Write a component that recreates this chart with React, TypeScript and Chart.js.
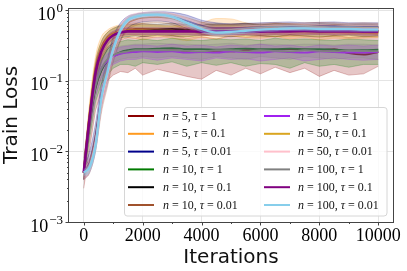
import React, { useEffect, useRef } from 'react';
import { Chart, registerables } from 'chart.js';

Chart.register(...registerables);

const ITER = [0,200,400,600,800,1000,1250,1500,1750,2000,2500,3000,3500,4000,4500,5000,5500,6000,6500,7000,7500,8000,8500,9000,9500,10000];

const N_VALUES = ['5','5','5','10','10','10','50','50','50','100','100','100'];
const TAU_VALUES = ['1','0.1','0.01','1','0.1','0.01','1','0.1','0.01','1','0.1','0.01'];
const COLORS = ['#8b0000','#ff9a1f','#00008b','#007a00','#000000','#a0522d','#a020f0','#daa520','#ffc0cb','#808080','#800080','#87ceeb'];

const X_TICKS = [0,2000,4000,6000,8000,10000];
const Y_TICKS = [0.001,0.01,0.1,1];
const Y_EXP = ['\u22123','\u22122','\u22121','0'];

const M_5_1 = [0.005,0.024,0.078,0.14,0.19,0.22,0.245,0.26,0.265,0.27,0.265,0.27,0.26,0.255,0.265,0.26,0.27,0.27,0.275,0.28,0.275,0.27,0.28,0.245,0.235,0.255];
const L_5_1 = [0.003,0.011,0.038,0.07,0.1,0.12,0.135,0.13,0.15,0.12,0.145,0.13,0.115,0.105,0.14,0.12,0.15,0.125,0.155,0.13,0.15,0.115,0.14,0.12,0.125,0.16];
const H_5_1 = [0.008,0.04,0.13,0.22,0.3,0.34,0.38,0.41,0.4,0.43,0.41,0.44,0.4,0.42,0.39,0.43,0.41,0.44,0.42,0.45,0.43,0.41,0.44,0.41,0.42,0.42];

const M_5_01 = [0.005,0.034,0.15,0.3,0.41,0.47,0.51,0.53,0.54,0.54,0.535,0.525,0.52,0.51,0.52,0.53,0.52,0.51,0.505,0.5,0.495,0.49,0.485,0.48,0.475,0.47];
const L_5_01 = [0.004,0.02,0.09,0.19,0.29,0.35,0.39,0.41,0.4,0.38,0.42,0.4,0.37,0.41,0.39,0.43,0.41,0.4,0.42,0.39,0.41,0.38,0.4,0.39,0.4,0.41];
const H_5_01 = [0.006,0.05,0.22,0.42,0.52,0.58,0.62,0.64,0.66,0.64,0.62,0.6,0.63,0.66,0.76,0.75,0.66,0.62,0.65,0.64,0.62,0.6,0.63,0.6,0.58,0.58];

const M_5_001 = [0.005,0.007,0.016,0.06,0.14,0.3,0.52,0.7,0.78,0.82,0.84,0.8,0.7,0.6,0.56,0.56,0.57,0.58,0.58,0.58,0.58,0.59,0.59,0.58,0.58,0.58];
const L_5_001 = [0.004,0.005,0.01,0.04,0.09,0.2,0.38,0.55,0.64,0.68,0.7,0.66,0.55,0.46,0.44,0.45,0.46,0.47,0.47,0.48,0.48,0.48,0.49,0.48,0.48,0.48];
const H_5_001 = [0.006,0.01,0.025,0.09,0.2,0.42,0.66,0.82,0.88,0.92,0.95,0.93,0.85,0.72,0.66,0.64,0.65,0.66,0.67,0.68,0.66,0.67,0.68,0.66,0.66,0.66];

const M_10_1 = [0.005,0.025,0.08,0.14,0.19,0.225,0.255,0.27,0.28,0.28,0.285,0.29,0.28,0.28,0.275,0.28,0.285,0.28,0.28,0.285,0.28,0.28,0.275,0.27,0.27,0.275];
const L_10_1 = [0.004,0.015,0.05,0.09,0.12,0.15,0.17,0.17,0.16,0.18,0.17,0.185,0.16,0.18,0.165,0.18,0.16,0.175,0.17,0.15,0.18,0.16,0.17,0.155,0.17,0.17];
const H_10_1 = [0.007,0.035,0.11,0.2,0.28,0.32,0.36,0.38,0.37,0.39,0.37,0.4,0.38,0.37,0.39,0.38,0.39,0.37,0.4,0.38,0.39,0.38,0.37,0.39,0.38,0.37];

const M_10_01 = [0.005,0.03,0.13,0.27,0.38,0.45,0.5,0.52,0.53,0.53,0.53,0.54,0.53,0.52,0.52,0.53,0.53,0.52,0.52,0.53,0.53,0.52,0.52,0.52,0.51,0.51];
const L_10_01 = [0.004,0.02,0.08,0.18,0.27,0.34,0.4,0.42,0.43,0.42,0.44,0.43,0.42,0.44,0.43,0.42,0.44,0.43,0.42,0.44,0.43,0.42,0.43,0.44,0.42,0.43];
const H_10_01 = [0.006,0.04,0.18,0.36,0.48,0.55,0.6,0.62,0.63,0.64,0.63,0.65,0.63,0.62,0.64,0.63,0.65,0.62,0.64,0.63,0.62,0.64,0.63,0.62,0.63,0.62];

const M_10_001 = [0.005,0.0065,0.014,0.05,0.12,0.26,0.48,0.66,0.74,0.78,0.8,0.76,0.65,0.56,0.52,0.53,0.54,0.55,0.56,0.56,0.57,0.57,0.56,0.56,0.56,0.56];
const L_10_001 = [0.004,0.005,0.01,0.035,0.08,0.18,0.36,0.52,0.6,0.64,0.66,0.62,0.52,0.45,0.43,0.44,0.45,0.46,0.46,0.47,0.47,0.46,0.47,0.46,0.46,0.46];
const H_10_001 = [0.006,0.008,0.02,0.07,0.17,0.36,0.6,0.78,0.86,0.9,0.92,0.88,0.78,0.68,0.62,0.63,0.64,0.65,0.66,0.65,0.66,0.67,0.66,0.65,0.66,0.65];

const M_50_1 = [0.005,0.028,0.09,0.15,0.19,0.22,0.24,0.25,0.255,0.26,0.255,0.26,0.25,0.255,0.25,0.26,0.255,0.25,0.26,0.255,0.25,0.26,0.255,0.25,0.25,0.255];
const L_50_1 = [0.004,0.02,0.06,0.11,0.15,0.17,0.19,0.2,0.2,0.21,0.195,0.21,0.2,0.19,0.21,0.2,0.205,0.19,0.2,0.21,0.19,0.2,0.21,0.2,0.195,0.2];
const H_50_1 = [0.006,0.036,0.12,0.19,0.24,0.27,0.3,0.31,0.32,0.32,0.31,0.33,0.31,0.32,0.3,0.32,0.31,0.33,0.31,0.32,0.3,0.32,0.31,0.32,0.31,0.32];

const M_50_01 = [0.005,0.032,0.14,0.28,0.39,0.46,0.5,0.52,0.52,0.52,0.51,0.51,0.5,0.5,0.51,0.51,0.5,0.5,0.5,0.49,0.5,0.5,0.49,0.49,0.49,0.49];
const L_50_01 = [0.004,0.022,0.1,0.21,0.31,0.38,0.42,0.44,0.44,0.44,0.43,0.44,0.42,0.43,0.44,0.43,0.42,0.43,0.42,0.42,0.43,0.42,0.42,0.41,0.42,0.42];
const H_50_01 = [0.006,0.045,0.19,0.36,0.48,0.55,0.59,0.61,0.61,0.61,0.6,0.59,0.59,0.58,0.6,0.6,0.59,0.58,0.59,0.57,0.58,0.59,0.57,0.58,0.57,0.57];

const M_50_001 = [0.005,0.006,0.013,0.05,0.12,0.26,0.5,0.7,0.78,0.82,0.84,0.79,0.66,0.55,0.5,0.5,0.52,0.53,0.54,0.54,0.55,0.55,0.54,0.54,0.54,0.54];
const L_50_001 = [0.004,0.005,0.01,0.038,0.09,0.2,0.4,0.58,0.66,0.7,0.72,0.68,0.56,0.47,0.43,0.43,0.45,0.46,0.47,0.47,0.48,0.48,0.47,0.47,0.47,0.47];
const H_50_001 = [0.006,0.0075,0.017,0.065,0.16,0.34,0.62,0.82,0.9,0.94,0.95,0.9,0.77,0.64,0.58,0.58,0.6,0.61,0.62,0.62,0.63,0.63,0.62,0.62,0.62,0.62];

const M_100_1 = [0.005,0.026,0.085,0.15,0.2,0.23,0.25,0.26,0.27,0.27,0.27,0.27,0.265,0.26,0.27,0.27,0.26,0.27,0.265,0.26,0.27,0.265,0.26,0.27,0.265,0.26];
const L_100_1 = [0.004,0.018,0.06,0.11,0.15,0.18,0.2,0.21,0.21,0.22,0.21,0.22,0.21,0.2,0.22,0.21,0.2,0.22,0.21,0.2,0.22,0.21,0.2,0.21,0.21,0.2];
const H_100_1 = [0.006,0.035,0.11,0.2,0.26,0.29,0.31,0.32,0.33,0.33,0.34,0.33,0.33,0.32,0.33,0.34,0.32,0.33,0.33,0.32,0.33,0.33,0.32,0.33,0.33,0.32];

const M_100_01 = [0.005,0.03,0.13,0.26,0.37,0.44,0.48,0.5,0.5,0.5,0.5,0.5,0.5,0.495,0.5,0.5,0.5,0.495,0.5,0.5,0.505,0.5,0.5,0.5,0.495,0.495];
const L_100_01 = [0.004,0.024,0.105,0.22,0.32,0.39,0.43,0.45,0.45,0.45,0.45,0.45,0.45,0.44,0.45,0.45,0.45,0.44,0.45,0.45,0.45,0.45,0.45,0.45,0.44,0.44];
const H_100_01 = [0.006,0.037,0.16,0.31,0.43,0.5,0.54,0.56,0.56,0.56,0.56,0.56,0.56,0.55,0.56,0.56,0.56,0.55,0.56,0.56,0.56,0.56,0.56,0.56,0.55,0.55];

const M_100_001 = [0.005,0.006,0.012,0.057,0.13,0.28,0.52,0.72,0.8,0.84,0.86,0.8,0.66,0.54,0.48,0.49,0.51,0.53,0.54,0.55,0.55,0.54,0.54,0.54,0.53,0.53];
const L_100_001 = [0.0045,0.0052,0.0105,0.05,0.115,0.25,0.47,0.66,0.74,0.78,0.8,0.74,0.6,0.49,0.44,0.45,0.47,0.49,0.5,0.51,0.51,0.5,0.5,0.5,0.49,0.49];
const H_100_001 = [0.0055,0.0068,0.014,0.065,0.145,0.31,0.57,0.78,0.86,0.9,0.92,0.86,0.72,0.59,0.53,0.54,0.56,0.58,0.59,0.6,0.6,0.59,0.59,0.59,0.58,0.58];

const MEANS = [M_5_1,M_5_01,M_5_001,M_10_1,M_10_01,M_10_001,M_50_1,M_50_01,M_50_001,M_100_1,M_100_01,M_100_001];
const LOWS = [L_5_1,L_5_01,L_5_001,L_10_1,L_10_01,L_10_001,L_50_1,L_50_01,L_50_001,L_100_1,L_100_01,L_100_001];
const HIGHS = [H_5_1,H_5_01,H_5_001,H_10_1,H_10_01,H_10_001,H_50_1,H_50_01,H_50_001,H_100_1,H_100_01,H_100_001];

function rgba(hex: string, a: number) {
  const h = hex.replace('#', '');
  const r = parseInt(h.slice(0, 2), 16);
  const g = parseInt(h.slice(2, 4), 16);
  const b = parseInt(h.slice(4, 6), 16);
  return `rgba(${r},${g},${b},${a})`;
}

const pts = (arr: number[]) => arr.map((v, i) => ({ x: ITER[i], y: v }));

const SERIF = '"Liberation Serif", "DejaVu Serif", serif';
const SANS = '"DejaVu Sans", sans-serif';

const decorPlugin = {
  id: 'decor',
  afterDraw(chart: any) {
    const ctx = chart.ctx;
    const area = chart.chartArea;
    const xs = chart.scales.x;
    const ys = chart.scales.y;
    ctx.save();
    ctx.strokeStyle = '#444';
    ctx.lineWidth = 1;
    ctx.strokeRect(Math.round(area.left) - 0.5, Math.round(area.top) + 0.5, Math.round(area.right - area.left) + 1, Math.round(area.bottom - area.top));
    ctx.beginPath();
    for (let v = 0; v <= 10000; v += 1000) {
      const px = Math.round(xs.getPixelForValue(v)) + 0.5;
      const len = v % 2000 === 0 ? 3.5 : 2;
      ctx.moveTo(px, area.bottom);
      ctx.lineTo(px, area.bottom + len);
    }
    for (let k = -3; k <= 0; k++) {
      for (let m = 1; m <= 9; m++) {
        const v = m * Math.pow(10, k);
        if (v > ys.max) continue;
        const py = Math.round(ys.getPixelForValue(v)) + 0.5;
        const len = m === 1 ? 3.5 : 2;
        ctx.moveTo(area.left, py);
        ctx.lineTo(area.left - len, py);
      }
    }
    ctx.stroke();
    ctx.fillStyle = '#000';
    ctx.textBaseline = 'alphabetic';
    Y_TICKS.forEach((v, i) => {
      const py = ys.getPixelForValue(v);
      ctx.font = `18px ${SERIF}`;
      const wBase = ctx.measureText('10').width;
      ctx.font = `13px ${SERIF}`;
      const wExp = ctx.measureText(Y_EXP[i]).width;
      const right = area.left - 6;
      const startX = right - wExp - 1 - wBase;
      ctx.font = `18px ${SERIF}`;
      ctx.textAlign = 'left';
      ctx.fillText('10', startX, py + 9.5);
      ctx.font = `13px ${SERIF}`;
      ctx.fillText(Y_EXP[i], startX + wBase + 1, py + 1.5);
    });
    const bx = 124, by = 107, bw = 263, bh = 109;
    ctx.fillStyle = 'rgba(255,255,255,0.8)';
    ctx.strokeStyle = '#d6d6d6';
    ctx.lineWidth = 1;
    ctx.beginPath();
    const r = 3;
    ctx.moveTo(bx + r, by + 0.5);
    ctx.lineTo(bx + bw - r, by + 0.5);
    ctx.quadraticCurveTo(bx + bw, by + 0.5, bx + bw, by + r);
    ctx.lineTo(bx + bw, by + bh - r);
    ctx.quadraticCurveTo(bx + bw, by + bh, bx + bw - r, by + bh);
    ctx.lineTo(bx + r, by + bh);
    ctx.quadraticCurveTo(bx + 0.5, by + bh, bx + 0.5, by + bh - r);
    ctx.lineTo(bx + 0.5, by + r);
    ctx.quadraticCurveTo(bx + 0.5, by + 0.5, bx + r, by + 0.5);
    ctx.closePath();
    ctx.fill();
    ctx.stroke();
    for (let i = 0; i < 12; i++) {
      const col = Math.floor(i / 6);
      const row = i % 6;
      const y = 116 + row * 17.8;
      const lx = col === 0 ? 128 : 264;
      const tx = col === 0 ? 163 : 298;
      ctx.strokeStyle = COLORS[i];
      ctx.lineWidth = 2;
      ctx.beginPath();
      ctx.moveTo(lx, y);
      ctx.lineTo(lx + 26, y);
      ctx.stroke();
      ctx.fillStyle = '#111';
      ctx.textBaseline = 'middle';
      ctx.textAlign = 'left';
      const parts: [string, boolean][] = [
        ['n', true], [' = ' + N_VALUES[i] + ', ', false], ['\u03c4', true], [' = ' + TAU_VALUES[i], false],
      ];
      let cx = tx;
      parts.forEach(([t, it]) => {
        ctx.font = `${it ? 'italic ' : ''}12px ${SERIF}`;
        ctx.fillText(t, cx, y + 0.5);
        cx += ctx.measureText(t).width;
      });
    }
    ctx.restore();
  },
};

export default function App() {
  const ref = useRef<HTMLCanvasElement | null>(null);
  useEffect(() => {
    if (!ref.current) return;
    const datasets: any[] = [];
    for (let i = 0; i < 12; i++) {
      const c = COLORS[i];
      const noisy = TAU_VALUES[i] === '1';
      const smooth = { pointRadius: 0, cubicInterpolationMode: 'monotone' };
      const bandStyle = noisy ? { pointRadius: 0, tension: 0 } : smooth;
      datasets.push({
        ...bandStyle,
        data: pts(LOWS[i]),
        borderColor: rgba(c, 0.35),
        borderWidth: 0.7,
        backgroundColor: 'transparent',
        fill: false,
      });
      datasets.push({
        ...bandStyle,
        data: pts(HIGHS[i]),
        borderColor: rgba(c, 0.35),
        borderWidth: 0.7,
        backgroundColor: rgba(c, i === 8 || i === 11 ? 0.35 : 0.22),
        fill: '-1',
      });
      datasets.push({
        ...smooth,
        data: pts(MEANS[i]),
        borderColor: c,
        borderWidth: i === 10 ? 2.6 : i === 11 ? 2.3 : 1.8,
        backgroundColor: c,
        fill: false,
      });
    }
    const total = datasets.length;
    datasets.forEach((d, k) => { d.order = total - k; });

    const chart = new Chart(ref.current, {
      type: 'line',
      data: { datasets },
      options: {
        animation: false,
        responsive: false,
        events: [],
        layout: { padding: { top: 8, right: 14, left: 0, bottom: 0 } },
        plugins: { legend: { display: false }, tooltip: { enabled: false } },
        scales: {
          x: {
            type: 'linear',
            min: -500,
            max: 10500,
            afterBuildTicks: (s: any) => { s.ticks = X_TICKS.map((v) => ({ value: v })); },
            afterFit: (s: any) => { s.height = 49; },
            grid: { color: '#e4e4e4', lineWidth: 1, drawTicks: false },
            border: { display: false },
            ticks: {
              padding: 3,
              maxRotation: 0,
              autoSkip: false,
              color: '#000',
              font: { family: SERIF, size: 18 },
              callback: (v: any) => String(v),
            },
            title: {
              display: true,
              text: 'Iterations',
              color: '#111',
              font: { family: SANS, size: 20 },
              padding: { top: 0, bottom: 1 },
            },
          },
          y: {
            type: 'logarithmic',
            min: 0.001,
            max: 1.07,
            afterBuildTicks: (s: any) => { s.ticks = Y_TICKS.map((v) => ({ value: v })); },
            afterFit: (s: any) => { s.width = 69; },
            grid: { color: '#e4e4e4', lineWidth: 1, drawTicks: false },
            border: { display: false },
            ticks: { display: false },
            title: {
              display: true,
              text: 'Train Loss',
              color: '#111',
              font: { family: SANS, size: 20 },
              padding: { top: 0, bottom: 0 },
            },
          },
        },
      },
      plugins: [decorPlugin],
    });
    return () => chart.destroy();
  }, []);
  return (
    <div style={{ position: 'fixed', left: 0, top: 0, width: 407, height: 271, background: '#fff' }}>
      <canvas ref={ref} width={407} height={271} style={{ display: 'block' }} />
    </div>
  );
}
